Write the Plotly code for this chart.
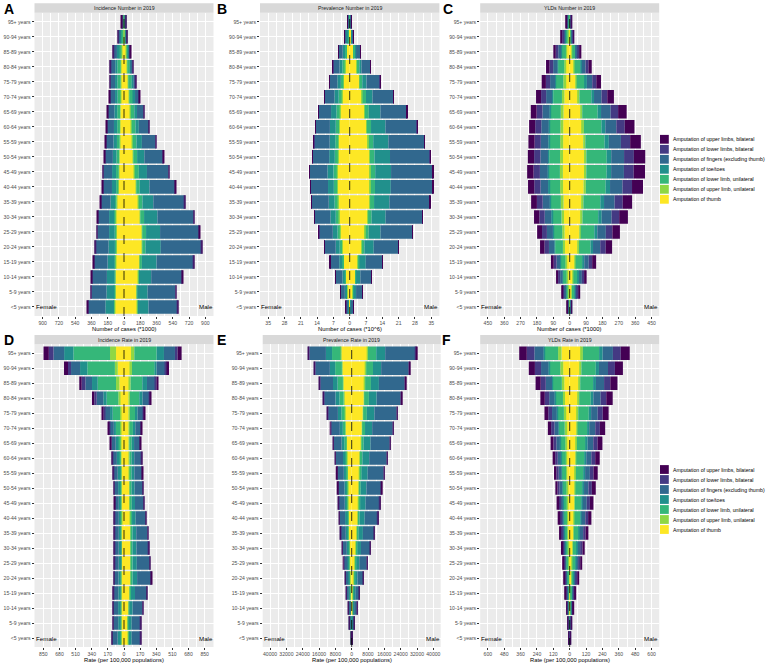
import plotly.graph_objects as go

AGE_GROUPS = ["<5 years", "5-9 years", "10-14 years", "15-19 years", "20-24 years",
              "25-29 years", "30-34 years", "35-39 years", "40-44 years", "45-49 years",
              "50-54 years", "55-59 years", "60-64 years", "65-69 years", "70-74 years",
              "75-79 years", "80-84 years", "85-89 years", "90-94 years", "95+ years"]

# stacking order: from the centre outwards
CATEGORIES = ["Amputation of thumb", "Amputation of upper limb, unilateral",
              "Amputation of lower limb, unilateral", "Amputation of toe/toes",
              "Amputation of fingers (excluding thumb)", "Amputation of lower limbs, bilateral",
              "Amputation of upper limbs, bilateral"]
COLORS = ["#FDE725", "#8FD744", "#35B779", "#21908C", "#31688E", "#443A83", "#440154"]

# ---------------- A: Incidence number (*1000) ----------------
A_F_thumb    = [103, 98, 95, 92, 88, 88, 92, 80, 66, 55, 50, 45, 42, 40, 36, 34, 33, 26, 14, 5]
A_F_upper_u  = [3, 3, 3, 3, 3, 3, 3, 3, 3, 3, 3, 3, 3, 3, 3, 3, 3, 2, 1, 1]
A_F_lower_u  = [5, 5, 6, 8, 10, 12, 14, 16, 18, 30, 30, 30, 30, 32, 32, 36, 37, 32, 22, 9]
A_F_toe      = [95, 88, 85, 78, 70, 62, 56, 50, 46, 44, 40, 38, 36, 32, 28, 26, 24, 18, 10, 4]
A_F_fingers  = [192, 167, 165, 151, 142, 130, 123, 106, 99, 97, 87, 83, 77, 70, 56, 53, 51, 38, 19, 7]
A_F_lower_b  = [3, 3, 3, 3, 3, 3, 3, 3, 3, 3, 3, 3, 3, 3, 3, 3, 3, 3, 2, 1]
A_F_upper_b  = [3, 3, 3, 3, 3, 3, 3, 3, 3, 3, 3, 3, 3, 3, 3, 3, 3, 2, 2, 1]
A_M_thumb    = [147, 140, 158, 176, 198, 198, 176, 158, 132, 114, 99, 92, 81, 70, 55, 44, 33, 26, 14, 7]
A_M_upper_u  = [3, 3, 3, 4, 4, 4, 4, 4, 4, 4, 4, 4, 4, 4, 3, 3, 3, 2, 1, 1]
A_M_lower_u  = [4, 4, 5, 18, 35, 42, 42, 42, 38, 46, 42, 42, 42, 40, 42, 38, 28, 20, 7, 5]
A_M_toe      = [117, 114, 135, 162, 170, 155, 148, 120, 108, 90, 80, 60, 37, 30, 22, 18, 15, 11, 5, 3]
A_M_fingers  = [319, 309, 343, 408, 449, 432, 402, 345, 284, 239, 206, 152, 112, 74, 44, 23, 18, 10, 4, 2]
A_M_lower_b  = [3, 3, 3, 3, 3, 3, 3, 3, 3, 3, 3, 3, 3, 3, 3, 3, 3, 2, 1, 1]
A_M_upper_b  = [3, 3, 3, 3, 3, 3, 3, 3, 3, 3, 3, 3, 3, 3, 3, 3, 3, 2, 1, 1]

# ---------------- B: Prevalence number (*10^6) ----------------
B_F_thumb    = [0.4, 1.1, 1.7, 2.5, 3.3, 4.0, 4.5, 4.9, 5.1, 5.2, 4.8, 4.6, 4.3, 4.0, 3.2, 2.5, 2.0, 1.3, 0.6, 0.18]
B_F_upper_u  = [0.03, 0.08, 0.1, 0.15, 0.2, 0.25, 0.3, 0.3, 0.3, 0.35, 0.3, 0.3, 0.3, 0.3, 0.25, 0.2, 0.15, 0.1, 0.05, 0.02]
B_F_lower_u  = [0.08, 0.2, 0.35, 0.55, 0.8, 1.0, 1.2, 1.3, 1.4, 1.4, 1.3, 1.3, 1.4, 1.4, 1.3, 1.1, 1.0, 0.8, 0.45, 0.15]
B_F_toe      = [0.35, 0.7, 1.0, 1.3, 1.7, 2.0, 2.3, 2.5, 2.5, 2.6, 2.4, 2.4, 2.5, 2.3, 1.8, 1.5, 1.2, 0.8, 0.4, 0.12]
B_F_fingers  = [0.72, 1.9, 2.9, 3.9, 4.9, 5.9, 6.6, 7.2, 7.4, 7.5, 7.0, 6.7, 6.1, 5.4, 4.3, 3.4, 2.8, 1.8, 0.9, 0.27]
B_F_lower_b  = [0.01, 0.02, 0.03, 0.05, 0.06, 0.08, 0.1, 0.1, 0.1, 0.12, 0.15, 0.1, 0.1, 0.1, 0.08, 0.06, 0.05, 0.03, 0.02, 0.01]
B_F_upper_b  = [0.01, 0.02, 0.03, 0.05, 0.06, 0.08, 0.1, 0.1, 0.1, 0.12, 0.15, 0.1, 0.1, 0.1, 0.08, 0.06, 0.05, 0.03, 0.02, 0.01]
B_M_thumb    = [0.4, 1.4, 2.3, 3.4, 5.0, 6.5, 7.5, 8.3, 8.6, 8.6, 8.3, 7.8, 7.0, 6.2, 5.2, 4.0, 3.0, 1.6, 0.6, 0.2]
B_M_upper_u  = [0.03, 0.08, 0.12, 0.2, 0.3, 0.35, 0.4, 0.45, 0.45, 0.45, 0.4, 0.4, 0.35, 0.3, 0.3, 0.2, 0.15, 0.1, 0.05, 0.02]
B_M_lower_u  = [0.05, 0.15, 0.35, 0.6, 1.0, 1.3, 1.5, 1.7, 1.8, 1.9, 1.9, 1.9, 1.8, 1.7, 1.5, 1.2, 1.0, 0.6, 0.3, 0.1]
B_M_toe      = [0.35, 1.1, 1.8, 2.7, 4.0, 5.1, 6.0, 6.6, 6.8, 6.8, 6.7, 6.5, 6.2, 5.0, 2.8, 1.8, 0.9, 0.5, 0.2, 0.1]
B_M_fingers  = [0.75, 2.8, 4.8, 7.0, 10.5, 13.5, 15.7, 17.2, 17.9, 17.8, 17.0, 15.4, 13.5, 11.2, 8.8, 5.8, 3.7, 1.7, 0.65, 0.18]
B_M_lower_b  = [0.01, 0.03, 0.05, 0.07, 0.1, 0.12, 0.15, 0.17, 0.18, 0.2, 0.2, 0.15, 0.15, 0.1, 0.1, 0.05, 0.03, 0.02, 0.01, 0.01]
B_M_upper_b  = [0.01, 0.03, 0.05, 0.07, 0.1, 0.12, 0.15, 0.17, 0.18, 0.2, 0.2, 0.15, 0.15, 0.1, 0.1, 0.05, 0.03, 0.02, 0.01, 0.01]

# ---------------- C: YLDs number (*1000) ----------------
C_F_thumb    = [2.6, 7.4, 12, 16.5, 26, 28.6, 31.4, 34, 36.6, 37.4, 36.8, 36.3, 35.7, 34.2, 29.6, 24.6, 20.8, 14.4, 7.8, 3.2]
C_F_upper_u  = [1.1, 3.2, 5.3, 7.2, 11.4, 12.5, 13.7, 14.8, 16, 16.4, 16.1, 15.9, 15.6, 15, 13, 10.8, 9.1, 6.3, 3.4, 1.4]
C_F_lower_u  = [4.2, 12, 19.5, 26.8, 42.4, 46.5, 51, 55, 59.5, 60.8, 59.8, 59, 58, 55.6, 48.1, 40, 33.8, 23.4, 12.7, 5.2]
C_F_toe      = [0.5, 1.4, 2.3, 3.1, 4.9, 5.4, 5.9, 6.4, 6.9, 7, 6.9, 6.8, 6.7, 6.4, 5.6, 4.6, 3.9, 2.7, 1.5, 0.6]
C_F_fingers  = [2.9, 8.3, 13.5, 18.5, 29.3, 32.2, 35.3, 38.2, 41.2, 42.1, 41.4, 40.9, 40.1, 38.5, 33.3, 27.7, 23.4, 16.2, 8.8, 3.6]
C_F_lower_b  = [2.4, 6.9, 11.2, 15.5, 24.5, 26.9, 29.4, 31.8, 34.4, 35.1, 34.5, 34, 33.5, 32.1, 27.7, 23.1, 19.5, 13.5, 7.4, 3]
C_F_upper_b  = [2.4, 6.9, 11.2, 15.5, 24.5, 26.9, 29.4, 31.8, 34.4, 35.1, 34.5, 34, 33.5, 32.1, 27.7, 23.1, 19.5, 13.5, 7.4, 3]
C_M_thumb    = [2.5, 10.8, 17.7, 27.6, 44.3, 52.4, 60.8, 65.2, 76.6, 78.7, 78.9, 74.3, 67.6, 59.5, 46.2, 32.7, 23, 12.2, 4.6, 2.1]
C_M_upper_u  = [0.4, 1.7, 2.8, 4.4, 7, 8.3, 9.6, 10.3, 12.1, 12.4, 12.5, 11.7, 10.7, 9.4, 7.3, 5.2, 3.6, 1.9, 0.7, 0.3]
C_M_lower_u  = [3.5, 15.4, 25.1, 39.2, 62.9, 74.5, 86.4, 92.6, 108.8, 111.8, 112, 105.6, 96.1, 84.5, 65.6, 46.4, 32.7, 17.3, 6.5, 3]
C_M_toe      = [0.8, 3.4, 5.6, 8.7, 14, 16.6, 19.2, 20.6, 24.2, 24.8, 24.9, 23.5, 21.4, 18.8, 14.6, 10.3, 7.3, 3.8, 1.4, 0.7]
C_M_fingers  = [2.2, 9.7, 15.8, 24.7, 39.6, 46.9, 54.4, 58.3, 68.5, 70.4, 70.6, 66.5, 60.5, 53.2, 41.3, 29.2, 20.6, 10.9, 4.1, 1.9]
C_M_lower_b  = [1.7, 7.4, 12.1, 18.9, 30.3, 35.9, 41.6, 44.6, 52.4, 53.8, 54, 50.8, 46.3, 40.7, 31.6, 22.4, 15.7, 8.3, 3.1, 1.4]
C_M_upper_b  = [1.9, 8.6, 14, 21.8, 35, 41.4, 48, 51.5, 60.5, 62.1, 62.3, 58.7, 53.4, 47, 36.5, 25.8, 18.2, 9.6, 3.6, 1.7]

# ---------------- D: Incidence rate (per 100,000) ----------------
D_F_thumb    = [33, 30, 30, 29, 29, 28, 28, 28, 26, 27, 28, 29, 30, 33, 35, 35, 42, 49, 66, 84]
D_F_upper_u  = [1, 1, 1, 1, 1, 1, 1, 1, 1, 2, 2, 2, 3, 4, 5, 7, 18, 35, 30, 63]
D_F_lower_u  = [3, 3, 3, 4, 5, 6, 7, 8, 10, 9, 13, 16, 22, 30, 45, 77, 123, 193, 290, 386]
D_F_toe      = [30, 27, 28, 26, 24, 21, 20, 19, 19, 18, 19, 19, 20, 20, 22, 28, 35, 60, 77, 98]
D_F_fingers  = [61, 53, 55, 50, 48, 44, 44, 44, 44, 42, 42, 44, 44, 45, 45, 53, 70, 70, 95, 112]
D_F_lower_b  = [1, 1, 1, 1, 1, 1, 1, 1, 1, 2, 3, 3, 4, 5, 8, 18, 25, 39, 32, 49]
D_F_upper_b  = [1, 1, 1, 1, 1, 1, 1, 1, 1, 2, 3, 3, 4, 6, 10, 18, 25, 25, 42, 56]
D_M_thumb    = [46, 44, 49, 60, 70, 70, 70, 70, 66, 63, 60, 56, 52, 49, 49, 49, 49, 56, 63, 74]
D_M_upper_u  = [2, 2, 3, 4, 5, 5, 5, 5, 5, 5, 5, 5, 6, 7, 10, 14, 14, 14, 21, 35]
D_M_lower_u  = [3, 3, 4, 10, 16, 16, 14, 14, 14, 14, 15, 18, 22, 25, 35, 53, 98, 123, 239, 235]
D_M_toe      = [30, 32, 35, 42, 47, 44, 42, 40, 38, 34, 32, 30, 28, 25, 25, 28, 35, 49, 21, 77]
D_M_fingers  = [92, 92, 105, 126, 148, 137, 127, 119, 107, 93, 87, 82, 75, 63, 60, 60, 67, 88, 91, 116]
D_M_lower_b  = [1, 1, 2, 2, 2, 2, 2, 2, 2, 2, 2, 3, 3, 4, 5, 7, 7, 14, 21, 28]
D_M_upper_b  = [2, 2, 2, 2, 3, 3, 3, 3, 3, 3, 3, 3, 4, 6, 9, 14, 14, 18, 18, 42]

# ---------------- E: Prevalence rate (per 100,000) ----------------
E_F_thumb    = [134, 314, 493, 762, 941, 1120, 1299, 1568, 1747, 1837, 1926, 2072, 2296, 2576, 2940, 3240, 3640, 4000, 4440, 5000]
E_F_upper_u  = [10, 22, 35, 54, 67, 80, 93, 112, 125, 131, 138, 148, 164, 184, 210, 240, 280, 320, 370, 430]
E_F_lower_u  = [38, 90, 141, 218, 269, 320, 371, 448, 499, 525, 550, 592, 656, 900, 1200, 1600, 2100, 2600, 3300, 4200]
E_F_toe      = [67, 157, 246, 381, 470, 560, 650, 784, 874, 918, 963, 1036, 1148, 1288, 1470, 1680, 1960, 2240, 2590, 3000]
E_F_fingers  = [211, 493, 775, 1197, 1479, 1760, 2042, 2464, 2746, 2886, 3027, 3256, 3608, 3884, 4260, 4760, 5460, 6200, 7060, 8010]
E_F_lower_b  = [10, 22, 35, 54, 67, 80, 93, 112, 125, 131, 138, 148, 164, 184, 210, 240, 280, 320, 370, 430]
E_F_upper_b  = [10, 22, 35, 54, 67, 80, 93, 112, 125, 131, 138, 148, 164, 184, 210, 240, 280, 320, 370, 430]
E_M_thumb    = [115, 346, 614, 922, 1382, 1805, 2227, 2688, 3110, 3341, 3533, 3840, 4200, 4560, 4920, 5400, 5880, 6360, 6840, 7680]
E_M_upper_u  = [5, 14, 26, 38, 58, 75, 93, 112, 130, 139, 147, 160, 175, 190, 205, 225, 245, 265, 285, 320]
E_M_lower_u  = [24, 72, 128, 192, 288, 376, 464, 560, 648, 696, 736, 800, 875, 1100, 1400, 1800, 2300, 2800, 3300, 4000]
E_M_toe      = [91, 274, 486, 730, 1094, 1429, 1763, 2128, 2462, 2645, 2797, 3040, 3325, 3400, 3500, 3700, 3800, 3900, 4000, 4400]
E_M_fingers  = [235, 706, 1254, 1882, 2822, 3685, 4547, 5488, 6350, 6821, 7213, 7840, 8575, 9370, 10065, 10925, 11785, 12645, 13505, 14940]
E_M_lower_b  = [5, 14, 26, 38, 58, 75, 93, 112, 130, 139, 147, 160, 175, 190, 205, 225, 245, 265, 285, 320]
E_M_upper_b  = [5, 14, 26, 38, 58, 75, 93, 112, 130, 139, 147, 160, 175, 190, 205, 225, 245, 265, 285, 320]

# ---------------- F: YLDs rate (per 100,000) ----------------
F_F_thumb    = [1.1, 2.4, 4, 5.4, 7.5, 8.6, 10.2, 12.5, 14.1, 15.4, 16.8, 18.4, 20, 22.4, 25.6, 29.6, 34.4, 40, 48, 59.2]
F_F_upper_u  = [0.5, 1.05, 1.75, 2.4, 3.3, 3.8, 4.5, 5.5, 6.2, 6.7, 7.4, 8, 8.8, 9.8, 11.2, 13, 15, 17.5, 21, 25.9]
F_F_lower_u  = [1.8, 3.9, 6.5, 8.8, 12.2, 14, 16.6, 20.3, 22.9, 25, 27.3, 29.9, 32.5, 36.4, 41.6, 48.1, 55.9, 65, 78, 96.2]
F_F_toe      = [0.2, 0.45, 0.75, 1.0, 1.4, 1.6, 1.9, 2.3, 2.6, 2.9, 3.2, 3.5, 3.8, 4.2, 4.8, 5.5, 6.5, 7.5, 9, 11.1]
F_F_fingers  = [1.3, 2.7, 4.5, 6.1, 8.5, 9.7, 11.5, 14, 15.8, 17.3, 18.9, 20.7, 22.5, 25.2, 28.8, 33.3, 38.7, 45, 54, 66.6]
F_F_lower_b  = [1.05, 2.25, 3.75, 5.1, 7.05, 8.1, 9.6, 11.7, 13.2, 14.4, 15.7, 17.2, 18.7, 21, 24, 27.7, 32.2, 37.5, 45, 55.5]
F_F_upper_b  = [1.05, 2.25, 3.75, 5.1, 7.05, 8.1, 9.6, 11.7, 13.2, 14.4, 15.7, 17.2, 18.7, 21, 24, 27.7, 32.2, 37.5, 45, 55.5]
F_M_thumb    = [0.95, 2.85, 5.1, 8.4, 12.5, 17.3, 20.9, 26, 30.2, 33.1, 36.3, 39, 41.8, 45.6, 49.4, 54.2, 59.9, 66.5, 74.1, 83.6]
F_M_upper_u  = [0.15, 0.45, 0.8, 1.3, 2, 2.7, 3.3, 4.1, 4.8, 5.2, 5.7, 6.2, 6.6, 7.2, 7.8, 8.6, 9.5, 10.5, 11.7, 13.2]
F_M_lower_u  = [1.35, 4.05, 7.3, 11.9, 17.8, 24.6, 29.7, 37, 42.9, 47, 51.6, 55.4, 59.4, 64.8, 70.2, 77, 85, 94.5, 105.3, 118.8]
F_M_toe      = [0.3, 0.9, 1.6, 2.6, 4, 5.5, 6.6, 8.2, 9.5, 10.4, 11.5, 12.3, 13.2, 14.4, 15.6, 17.1, 18.9, 21, 23.4, 26.4]
F_M_fingers  = [0.85, 2.55, 4.6, 7.5, 11.2, 15.5, 18.7, 23.3, 27, 29.6, 32.5, 34.9, 37.4, 40.8, 44.2, 48.5, 53.6, 59.5, 66.3, 74.8]
F_M_lower_b  = [0.65, 1.95, 3.5, 5.7, 8.6, 11.8, 14.3, 17.8, 20.7, 22.6, 24.8, 26.7, 28.6, 31.2, 33.8, 37, 41, 45.5, 50.7, 57.2]
F_M_upper_b  = [0.75, 2.25, 4.1, 6.6, 9.9, 13.7, 16.5, 20.6, 23.9, 26.1, 28.7, 30.8, 33, 36, 39, 42.8, 47.3, 52.5, 58.5, 66]

A_TICKS = [-900, -720, -540, -360, -180, 0, 180, 360, 540, 720, 900]
B_TICKS = [-35, -28, -21, -14, -7, 0, 7, 14, 21, 28, 35]
C_TICKS = [-450, -360, -270, -180, -90, 0, 90, 180, 270, 360, 450]
D_TICKS = [-850, -680, -510, -340, -170, 0, 170, 340, 510, 680, 850]
E_TICKS = [-40000, -32000, -24000, -16000, -8000, 0, 8000, 16000, 24000, 32000, 40000]
F_TICKS = [-600, -480, -360, -240, -120, 0, 120, 240, 360, 480, 600]

W, H = 767, 665


def px_x(v):
    return v / W


def px_y(v):
    return 1 - v / H


PANELS = [
    dict(letter="A", title="Incidence Number in 2019", xlab="Number of cases (*1000)",
         female=[A_F_thumb, A_F_upper_u, A_F_lower_u, A_F_toe, A_F_fingers, A_F_lower_b, A_F_upper_b],
         male=[A_M_thumb, A_M_upper_u, A_M_lower_u, A_M_toe, A_M_fingers, A_M_lower_b, A_M_upper_b],
         ticks=A_TICKS, rng=990, x0=34.5, x1=213.5, row=1, lx=2.5),
    dict(letter="B", title="Prevalence Number in 2019", xlab="Number of cases (*10^6)",
         female=[B_F_thumb, B_F_upper_u, B_F_lower_u, B_F_toe, B_F_fingers, B_F_lower_b, B_F_upper_b],
         male=[B_M_thumb, B_M_upper_u, B_M_lower_u, B_M_toe, B_M_fingers, B_M_lower_b, B_M_upper_b],
         ticks=B_TICKS, rng=38.5, x0=260.0, x1=439.4, row=1, lx=216.5),
    dict(letter="C", title="YLDs Number in 2019", xlab="Number of cases (*1000)",
         female=[C_F_thumb, C_F_upper_u, C_F_lower_u, C_F_toe, C_F_fingers, C_F_lower_b, C_F_upper_b],
         male=[C_M_thumb, C_M_upper_u, C_M_lower_u, C_M_toe, C_M_fingers, C_M_lower_b, C_M_upper_b],
         ticks=C_TICKS, rng=492, x0=480.2, x1=659.2, row=1, lx=442.0),
    dict(letter="D", title="Incidence Rate in 2019", xlab="Rate (per 100,000 populations)",
         female=[D_F_thumb, D_F_upper_u, D_F_lower_u, D_F_toe, D_F_fingers, D_F_lower_b, D_F_upper_b],
         male=[D_M_thumb, D_M_upper_u, D_M_lower_u, D_M_toe, D_M_fingers, D_M_lower_b, D_M_upper_b],
         ticks=D_TICKS, rng=943, x0=34.5, x1=213.5, row=2, lx=2.5),
    dict(letter="E", title="Prevalence Rate in 2019", xlab="Rate (per 100,000 populations)",
         female=[E_F_thumb, E_F_upper_u, E_F_lower_u, E_F_toe, E_F_fingers, E_F_lower_b, E_F_upper_b],
         male=[E_M_thumb, E_M_upper_u, E_M_lower_u, E_M_toe, E_M_fingers, E_M_lower_b, E_M_upper_b],
         ticks=E_TICKS, rng=43600, x0=262.7, x1=440.7, row=2, lx=216.5),
    dict(letter="F", title="YLDs Rate in 2019", xlab="Rate (per 100,000 populations)",
         female=[F_F_thumb, F_F_upper_u, F_F_lower_u, F_F_toe, F_F_fingers, F_F_lower_b, F_F_upper_b],
         male=[F_M_thumb, F_M_upper_u, F_M_lower_u, F_M_toe, F_M_fingers, F_M_lower_b, F_M_upper_b],
         ticks=F_TICKS, rng=656, x0=480.2, x1=659.2, row=2, lx=441.0),
]

ROWS = {1: dict(strip0=3.3, top=12.7, bottom=316.0, xlab_y=328.5),
        2: dict(strip0=335.0, top=344.2, bottom=647.0, xlab_y=659.5)}

FONT = "Liberation Sans, Arial, sans-serif"
TICK_FONT = dict(family=FONT, size=5.1, color="#4D4D4D")

fig = go.Figure()
layout = dict(width=W, height=H, margin=dict(l=0, r=0, t=0, b=0), autosize=False,
              paper_bgcolor="white", plot_bgcolor="#EBEBEB", barmode="relative",
              bargap=0.1, showlegend=False, font=dict(family=FONT, color="black"))
shapes, annotations = [], []

for i, p in enumerate(PANELS, start=1):
    sfx = "" if i == 1 else str(i)
    r = ROWS[p["row"]]
    for cat, col, fv, mv in zip(CATEGORIES, COLORS, p["female"], p["male"]):
        fig.add_trace(go.Bar(y=AGE_GROUPS, x=[-v for v in fv], orientation="h", name=cat,
                             marker=dict(color=col, line=dict(width=0)),
                             xaxis="x" + sfx, yaxis="y" + sfx, customdata=fv,
                             hovertemplate="Female %{y}<br>" + cat + ": %{customdata}<extra></extra>"))
        fig.add_trace(go.Bar(y=AGE_GROUPS, x=mv, orientation="h", name=cat,
                             marker=dict(color=col, line=dict(width=0)),
                             xaxis="x" + sfx, yaxis="y" + sfx,
                             hovertemplate="Male %{y}<br>" + cat + ": %{x}<extra></extra>"))
    ticks = p["ticks"]
    minor = [(a + b) / 2 for a, b in zip(ticks[:-1], ticks[1:])]
    step = ticks[1] - ticks[0]
    minor = [ticks[0] - step / 2] + minor + [ticks[-1] + step / 2]
    layout["xaxis" + sfx] = dict(
        domain=[px_x(p["x0"]), px_x(p["x1"])], anchor="y" + sfx,
        range=[-p["rng"], p["rng"]], tickmode="array", tickvals=ticks,
        ticktext=[str(abs(t)) for t in ticks], tickfont=TICK_FONT, tickangle=0,
        showgrid=True, gridcolor="white", gridwidth=0.9, zeroline=False,
        ticks="outside", ticklen=2, tickwidth=0.6, tickcolor="#333333",
        minor=dict(tickmode="array", tickvals=minor, showgrid=True, gridcolor="white", gridwidth=0.45),
        fixedrange=True)
    layout["yaxis" + sfx] = dict(
        domain=[px_y(r["bottom"]), px_y(r["top"])], anchor="x" + sfx,
        type="category", categoryorder="array", categoryarray=AGE_GROUPS,
        range=[-0.6, 19.6], tickfont=TICK_FONT, showgrid=True, gridcolor="white",
        gridwidth=0.9, ticks="outside", ticklen=2, tickwidth=0.6, tickcolor="#333333",
        zeroline=False, fixedrange=True)
    # strip
    shapes.append(dict(type="rect", xref="paper", yref="paper", x0=px_x(p["x0"]), x1=px_x(p["x1"]),
                       y0=px_y(r["top"]), y1=px_y(r["strip0"]), fillcolor="#D9D9D9",
                       line=dict(width=0), layer="below"))
    annotations.append(dict(text=p["title"], xref="paper", yref="paper",
                            x=px_x((p["x0"] + p["x1"]) / 2), y=px_y((r["top"] + r["strip0"]) / 2),
                            xanchor="center", yanchor="middle", showarrow=False,
                            font=dict(family=FONT, size=5.2, color="#1A1A1A")))
    # dashed zero line
    shapes.append(dict(type="line", xref="x" + sfx, yref="y" + sfx + " domain", x0=0, x1=0, y0=0, y1=1,
                       line=dict(color="black", width=0.8, dash="dash"), layer="above"))
    # axis title
    annotations.append(dict(text=p["xlab"], xref="paper", yref="paper",
                            x=px_x((p["x0"] + p["x1"]) / 2), y=px_y(r["xlab_y"]),
                            xanchor="center", yanchor="middle", showarrow=False,
                            font=dict(family=FONT, size=5.8, color="black")))
    # Female / Male labels
    annotations.append(dict(text="Female", xref="x" + sfx + " domain", yref="y" + sfx, x=0, y="<5 years",
                            xanchor="left", yanchor="middle", showarrow=False, borderpad=0,
                            font=dict(family=FONT, size=6.2, color="black")))
    annotations.append(dict(text="Male", xref="x" + sfx + " domain", yref="y" + sfx, x=1, y="<5 years",
                            xanchor="right", yanchor="middle", showarrow=False, borderpad=0,
                            font=dict(family=FONT, size=6.2, color="black")))
    # panel letter
    annotations.append(dict(text="<b>" + p["letter"] + "</b>", xref="paper", yref="paper",
                            x=px_x(p["lx"]), y=px_y(r["strip0"] + 5.3),
                            xanchor="left", yanchor="middle", showarrow=False, borderpad=0,
                            font=dict(family=FONT, size=14, color="black")))

# legends (one per row), drawn in ggplot style
LEGEND_ORDER = list(reversed(range(len(CATEGORIES))))
for first_y in (139.3, 469.5):
    for k, ci in enumerate(LEGEND_ORDER):
        yc = first_y + 10.0 * k
        shapes.append(dict(type="rect", xref="paper", yref="paper",
                           x0=px_x(660.0), x1=px_x(668.8), y0=px_y(yc + 4.4), y1=px_y(yc - 4.4),
                           fillcolor=COLORS[ci], line=dict(width=0)))
        annotations.append(dict(text=CATEGORIES[ci], xref="paper", yref="paper",
                                x=px_x(671.5), y=px_y(yc), xanchor="left", yanchor="middle",
                                showarrow=False, borderpad=0,
                                font=dict(family=FONT, size=5.2, color="black")))

layout["shapes"] = shapes
layout["annotations"] = annotations
fig.update_layout(**layout)
fig.write_html("out.html", config={"displayModeBar": False},
               post_script="document.body.style.margin='0';")
